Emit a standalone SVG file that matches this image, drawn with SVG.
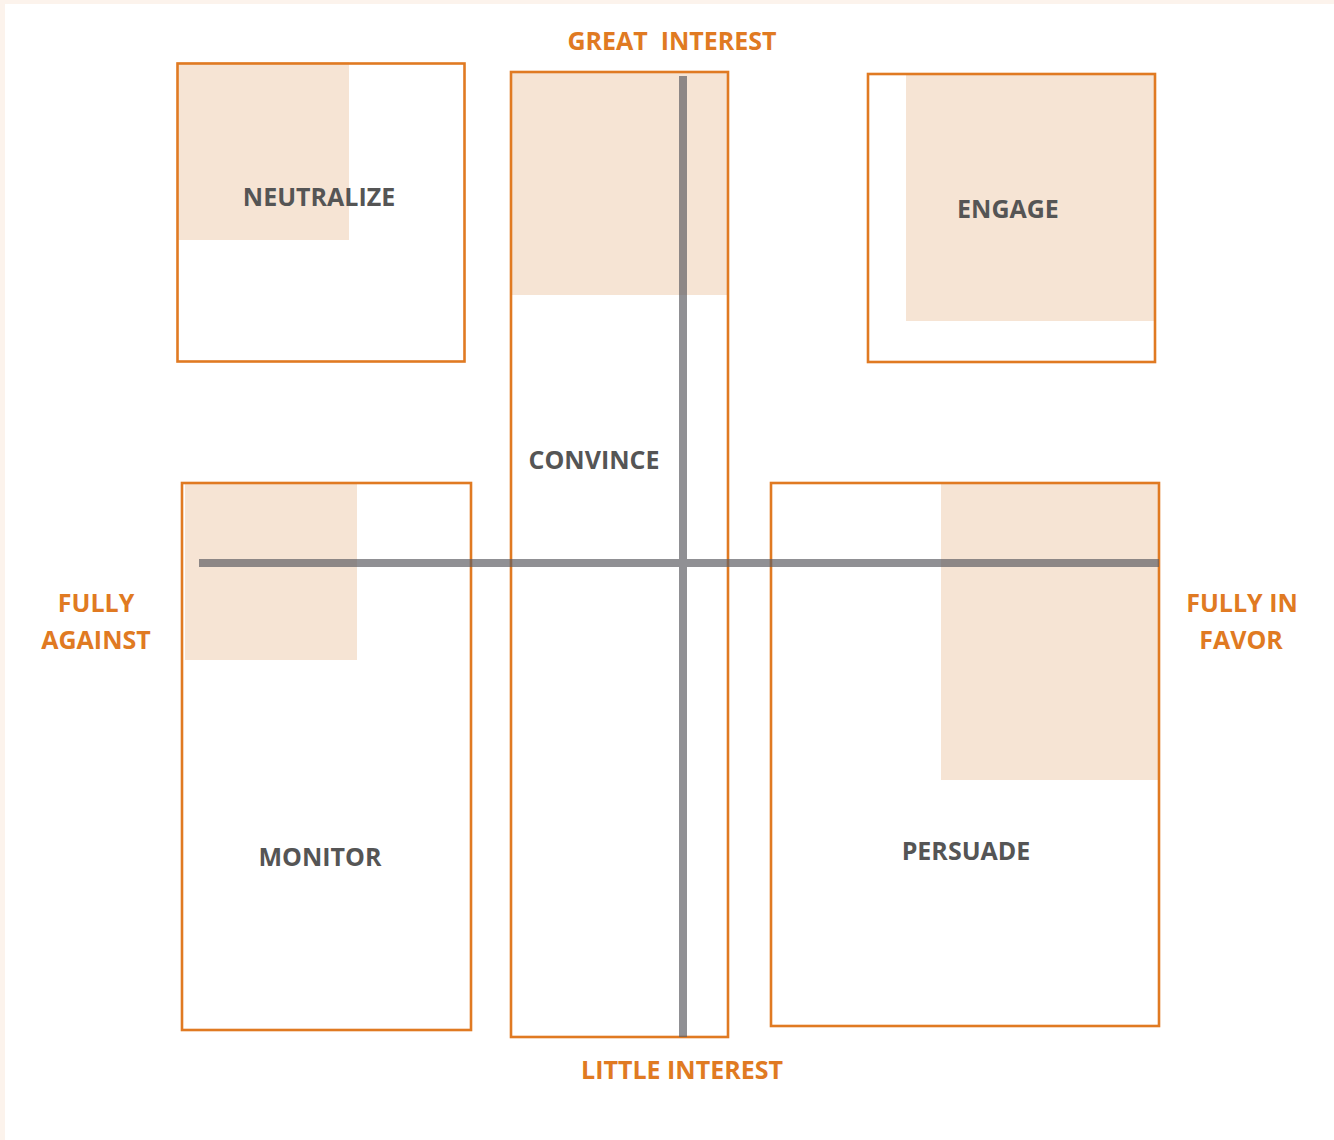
<svg xmlns="http://www.w3.org/2000/svg" width="1334" height="1140" viewBox="0 0 1334 1140">
  <style>
    .box { fill: none; stroke: #e07a22; stroke-width: 2.6; }
    .shade { fill: #f6e4d4; }
    .node-label { font-family: "Open Sans", "Liberation Sans", sans-serif; font-weight: bold; font-size: 25px; fill: #555555; text-anchor: middle; }
    .axis-label { font-family: "Open Sans", "Liberation Sans", sans-serif; font-weight: bold; font-size: 25px; fill: #e07a22; text-anchor: middle; white-space: pre; }
    .axis { stroke: #5c5c62; stroke-width: 8; fill: none; }
  </style>
  <rect x="0" y="0" width="1334" height="1140" fill="#fcf3ec"/>
  <rect x="5" y="4" width="1329" height="1136" fill="#ffffff"/>

  <g id="neutralize">
    <rect class="shade" x="177" y="62" width="172" height="178"/>
    <rect class="box" x="177.5" y="63.5" width="287" height="298"/>
    <text class="node-label" x="319" y="206">NEUTRALIZE</text>
  </g>
  <g id="convince">
    <rect class="shade" x="511" y="72" width="217" height="223"/>
    <rect class="box" x="511" y="72" width="217" height="965"/>
    <text class="node-label" x="594" y="469">CONVINCE</text>
  </g>
  <g id="engage">
    <rect class="shade" x="906" y="74" width="249" height="247"/>
    <rect class="box" x="868" y="74" width="287" height="288"/>
    <text class="node-label" x="1008" y="218">ENGAGE</text>
  </g>
  <g id="monitor">
    <rect class="shade" x="185" y="483" width="172" height="177"/>
    <rect class="box" x="182" y="483" width="289" height="547"/>
    <text class="node-label" x="320" y="866">MONITOR</text>
  </g>
  <g id="persuade">
    <rect class="shade" x="941" y="483" width="218" height="297"/>
    <rect class="box" x="771" y="483" width="388" height="543"/>
    <text class="node-label" x="966" y="860">PERSUADE</text>
  </g>

  <g id="connectors" opacity="0.68">
    <path class="axis" d="M683 76 V1037 M199 563 H1159"/>
  </g>

  <g id="axis-labels">
    <text class="axis-label" x="672" y="50" xml:space="preserve">GREAT  INTEREST</text>
    <text class="axis-label" x="682" y="1079">LITTLE INTEREST</text>
    <text class="axis-label" x="96" y="612">FULLY</text>
    <text class="axis-label" x="96" y="649">AGAINST</text>
    <text class="axis-label" x="1242" y="612">FULLY IN</text>
    <text class="axis-label" x="1241" y="649">FAVOR</text>
  </g>
</svg>
